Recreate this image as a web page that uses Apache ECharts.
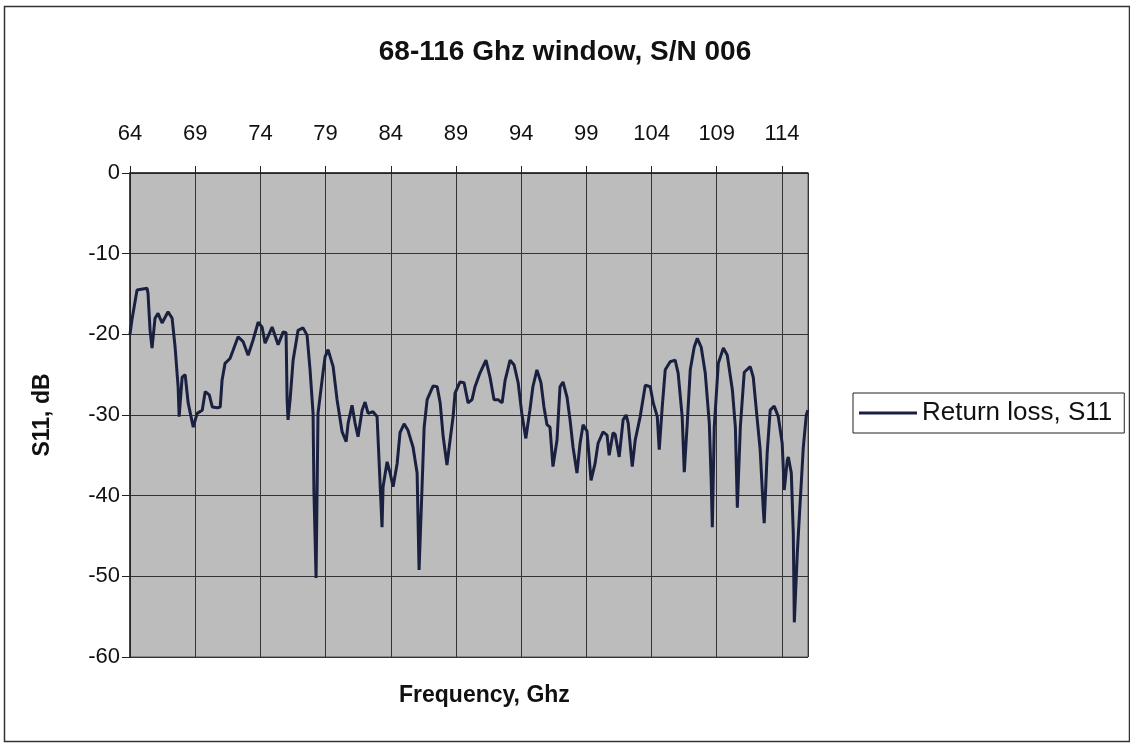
<!DOCTYPE html>
<html>
<head>
<meta charset="utf-8">
<script src="https://cdn.jsdelivr.net/npm/echarts@6/dist/echarts.min.js"></script>
<style>html,body{margin:0;padding:0;background:#fff;}#c{width:1130px;height:744px;}</style>
</head>
<body>
<div id="c"></div>
<script>
// Frequency (GHz) and return loss S11 (dB)
const freq = [64.00,64.08,64.15,64.54,64.62,65.31,65.38,65.54,65.69,65.92,66.15,66.46,66.92,67.23,67.46,67.69,67.77,68.00,68.23,68.46,68.85,69.15,69.54,69.77,70.08,70.31,70.69,70.92,71.06,71.29,71.67,71.90,72.29,72.44,72.67,73.06,73.44,73.83,74.13,74.36,74.90,75.36,75.75,75.97,76.05,76.12,76.28,76.51,76.89,77.27,77.58,77.81,78.04,78.11,78.27,78.42,78.73,78.96,79.19,79.58,79.88,80.27,80.58,80.73,81.03,81.26,81.49,81.80,82.03,82.26,82.64,82.95,83.10,83.33,83.41,83.72,83.95,84.18,84.49,84.71,85.02,85.32,85.71,86.02,86.17,86.40,86.56,86.79,87.25,87.56,87.79,88.02,88.31,88.55,88.78,88.93,89.31,89.62,89.93,90.23,90.46,90.84,91.30,91.61,91.92,92.23,92.54,92.77,93.15,93.46,93.77,94.05,94.36,94.67,94.90,95.21,95.52,95.75,95.98,96.21,96.44,96.75,96.98,97.21,97.52,97.75,97.98,98.28,98.52,98.75,99.05,99.36,99.67,99.90,100.28,100.59,100.75,101.05,101.21,101.52,101.82,102.05,102.21,102.52,102.75,103.13,103.52,103.90,104.13,104.44,104.59,104.82,105.05,105.43,105.81,106.04,106.35,106.51,106.74,106.97,107.27,107.51,107.81,108.12,108.43,108.58,108.66,108.81,109.12,109.51,109.81,110.20,110.43,110.58,110.81,111.11,111.57,111.80,112.11,112.33,112.56,112.64,112.87,113.10,113.41,113.72,114.02,114.18,114.41,114.49,114.72,114.87,114.95,115.18,115.41,115.64,115.87,115.99];
const s11 = [-20.0,-19.8,-18.2,-14.5,-14.3,-14.3,-14.9,-19.5,-21.7,-18.0,-17.4,-18.6,-17.2,-18.0,-21.6,-26.5,-30.2,-25.3,-25.0,-28.5,-31.5,-29.8,-29.4,-27.1,-27.5,-29.0,-29.1,-29.0,-25.7,-23.6,-23.0,-22.0,-20.3,-20.1,-20.9,-22.6,-20.7,-18.5,-19.1,-21.1,-19.1,-21.3,-19.7,-19.8,-28.1,-30.6,-28.1,-23.2,-19.5,-19.2,-20.1,-24.4,-29.8,-39.7,-50.2,-29.8,-25.7,-22.8,-21.9,-24.0,-28.1,-32.1,-33.3,-31.0,-28.8,-31.0,-32.7,-29.4,-28.4,-29.8,-29.6,-30.2,-35.6,-43.9,-38.9,-35.8,-37.2,-38.9,-36.0,-32.2,-31.1,-31.9,-34.0,-37.2,-49.2,-38.9,-31.5,-28.1,-26.4,-26.5,-28.5,-32.7,-36.2,-33.1,-30.2,-27.3,-25.9,-26.0,-28.5,-28.1,-26.5,-24.8,-23.2,-25.3,-28.1,-28.1,-28.5,-25.7,-23.2,-23.8,-26.0,-29.8,-32.9,-29.4,-26.5,-24.4,-26.0,-29.0,-31.2,-31.5,-36.4,-33.1,-26.5,-25.9,-27.8,-30.6,-34.0,-37.2,-33.5,-31.2,-32.0,-38.1,-36.0,-33.5,-32.1,-32.5,-35.0,-32.2,-32.4,-35.2,-30.6,-30.0,-31.0,-36.4,-33.1,-30.2,-26.3,-26.5,-28.5,-30.2,-34.3,-29.0,-24.4,-23.4,-23.2,-24.8,-30.2,-37.1,-31.0,-24.4,-21.6,-20.5,-21.6,-24.8,-31.0,-38.4,-43.9,-31.5,-23.6,-21.7,-22.6,-26.9,-31.5,-41.5,-31.5,-24.7,-24.0,-25.3,-30.6,-34.3,-41.4,-43.4,-34.7,-29.4,-28.9,-30.2,-33.5,-39.3,-35.6,-35.2,-37.2,-44.6,-55.7,-47.1,-40.5,-34.0,-30.0,-29.4];
const xStart = 64, xEnd = 116, xStep = 5;
const yTicks = [0, -10, -20, -30, -40, -50, -60];

const chart = echarts.init(document.getElementById('c'), null, {renderer: 'canvas'});
const pts = freq.map((f, i) => [f - xStart, s11[i]]);
const FONT = 'Liberation Sans, Arial, sans-serif';
chart.setOption({
  animation: false,
  backgroundColor: '#ffffff',
  title: {
    text: '68-116 Ghz window, S/N 006',
    left: 'center', top: 33,
    textStyle: {fontFamily: FONT, fontWeight: 'bold', fontSize: 28, color: '#111'}
  },
  grid: {left: 130, top: 173, width: 678, height: 484, show: true, backgroundColor: '#bcbcbc', borderColor: '#555', borderWidth: 1},
  xAxis: {
    type: 'value', position: 'top', min: 0, max: xEnd - xStart, interval: xStep,
    axisLine: {show: true, onZero: false, lineStyle: {color: '#222', width: 1.5}},
    axisTick: {show: true, inside: false, length: 7, lineStyle: {color: '#222'}},
    axisLabel: {showMaxLabel: false, formatter: v => String(v + xStart), fontFamily: FONT, fontSize: 22, color: '#111', margin: 28},
    splitLine: {show: true, lineStyle: {color: '#333', width: 1}}
  },
  yAxis: {
    type: 'value', min: yTicks[yTicks.length - 1], max: yTicks[0], interval: 10,
    name: 'S11, dB', nameLocation: 'middle', nameGap: 76, nameRotate: 90,
    nameTextStyle: {fontFamily: FONT, fontWeight: 'bold', fontSize: 23, color: '#111'},
    axisLine: {show: true, onZero: false, lineStyle: {color: '#222', width: 1.5}},
    axisTick: {show: true, inside: false, length: 8, lineStyle: {color: '#222'}},
    axisLabel: {fontFamily: FONT, fontSize: 22, color: '#111', margin: 10},
    splitLine: {show: true, lineStyle: {color: '#333', width: 1}}
  },
  legend: {
    left: 853, top: 393, orient: 'vertical',
    padding: [7, 12, 7, 6],
    borderColor: '#222', borderWidth: 1, backgroundColor: '#fff',
    itemWidth: 58, itemHeight: 3, icon: 'rect',
    textStyle: {fontFamily: FONT, fontSize: 26, color: '#111', padding: [0, 0, 0, 0]},
    data: ['Return loss, S11']
  },
  series: [{
    name: 'Return loss, S11', type: 'line', data: pts, showSymbol: false, symbol: 'none',
    lineStyle: {color: '#1a2040', width: 3}, itemStyle: {color: '#1a2040'}
  }],
  graphic: [
    {type: 'rect', left: 2, top: 4, shape: {width: 1125, height: 735}, style: {fill: 'none', stroke: '#333', lineWidth: 1.5}, z: -1},
    {type: 'text', left: 399, top: 684, style: {text: 'Frequency, Ghz', fontFamily: FONT, fontWeight: 'bold', fontSize: 23, fill: '#111'}}
  ]
});
</script>
</body>
</html>
